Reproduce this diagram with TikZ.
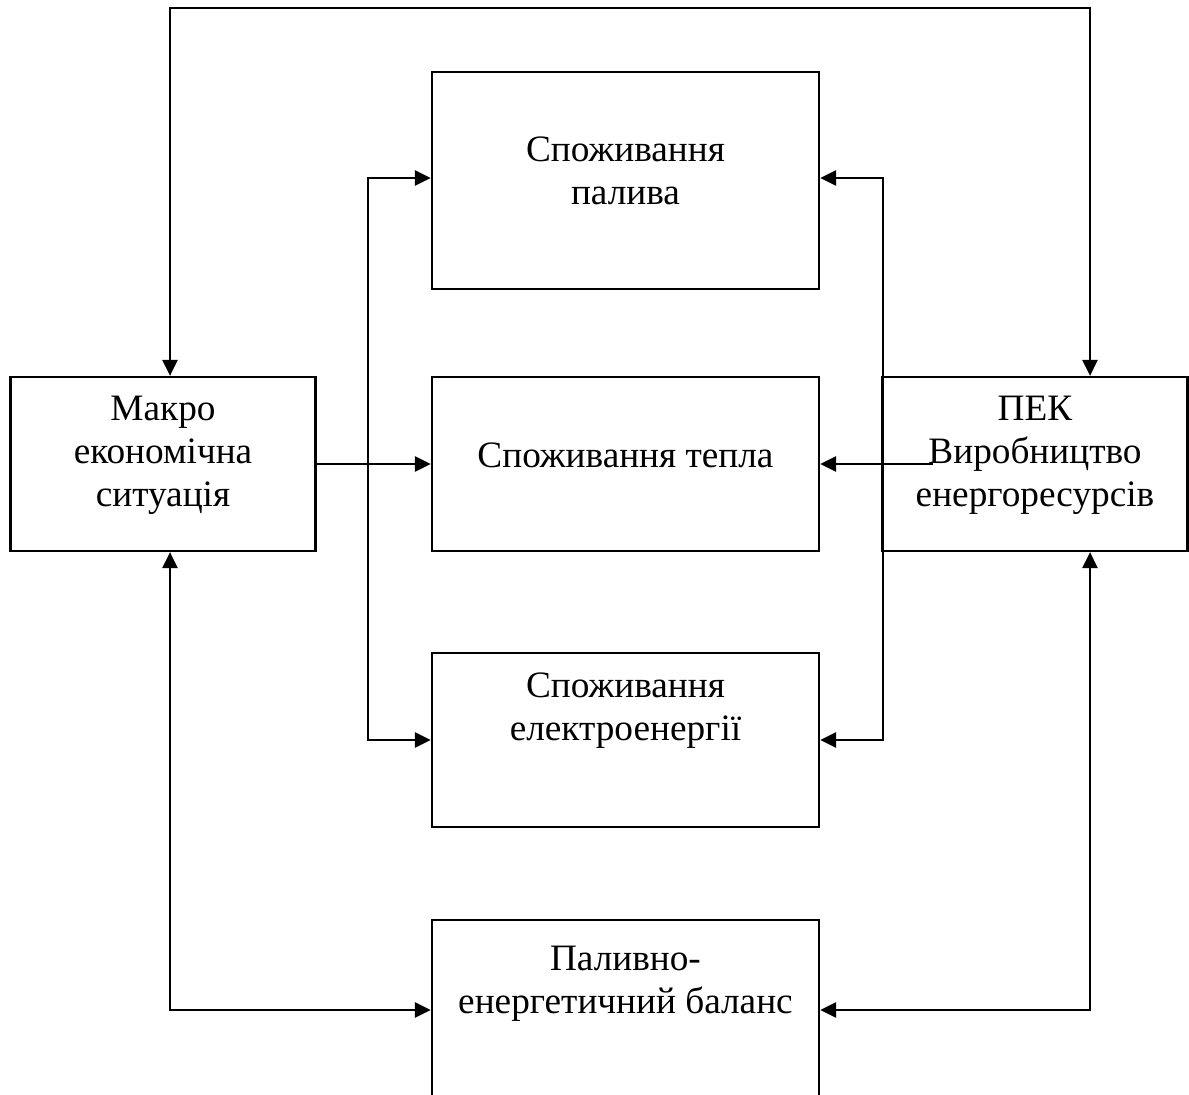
\documentclass[tikz,border=0pt]{standalone}
\usepackage{fontspec}
\setmainfont{Liberation Serif}
\usepackage{tikz}
\usetikzlibrary{positioning,arrows.meta,calc}

\begin{document}
\begin{tikzpicture}[
  x=0.025cm, y=-0.025cm,
  font=\fontsize{26.5}{30.5}\selectfont,
  blok/.style={draw=black, line width=1.6pt, minimum width=9.675cm, minimum height=4.35cm, inner sep=0pt},
  bok/.style={blok, minimum width=7.62cm},
  txt/.style={align=center, inner sep=0pt},
  arr/.style={-{Triangle[length=0.4cm, width=0.38cm]}, line width=1.6pt},
  both/.style={{Triangle[length=0.4cm, width=0.38cm]}-{Triangle[length=0.4cm, width=0.38cm]}, line width=1.6pt}
]
% Coordinates in pixels of the 1189x1095 sheet, y running down.
\useasboundingbox (0,0) rectangle (1189,1095);
\clip (0,0) rectangle (1189,1095);

% --- Boxes ---
\node[blok, minimum height=5.425cm] (palyvo) at (625.5,180.5) {};
\node[blok] (teplo) at (625.5,464) {};
\node[blok] (elektro) at (625.5,740) {};
\node[blok, minimum height=6.5cm] (balans) at (625.5,1050) {};
\node[bok] (makro) at (163,464) {};
\node[bok] (pek) at (1035,464) {};

% --- Texts ---
\node[txt] (palyvotxt) at (625.5,171) {Споживання\\палива};
\node[txt] (teplotxt) at (625.5,455) {Споживання тепла};
\node[txt] (elektrotxt) at (625.5,711) {Споживання\\електроенергії};
\node[txt] (balanstxt) at (625.5,984) {Паливно-\\енергетичний баланс};
\node[txt] (makrotxt) at (163,455) {Макро\\економічна\\ситуація};
\node[txt] (pektxt) at (1035,455) {ПЕК\\Виробництво\\енергоресурсів};

% --- Corner points ---
\coordinate (tl) at (170,8);
\coordinate (tr) at (1090,8);
\coordinate (bl) at (170,1010);
\coordinate (br) at (1090,1010);
\coordinate (lb1) at (368,178);
\coordinate (lb2) at (368,740);
\coordinate (rb1) at (883,178);
\coordinate (rb2) at (883,740);
\coordinate (pv) at (933,464);

% --- Connectors ---
\draw[both] (tl |- makro.north) -- (tl) -- (tr) -- (tr |- pek.north);
\draw[both] (bl |- makro.south) -- (bl) -- (balans.west |- bl);
\draw[both] (br |- pek.south) -- (br) -- (balans.east |- br);
\draw[both] (palyvo.west |- lb1) -- (lb1) -- (lb2) -- (elektro.west |- lb2);
\draw[both] (palyvo.east |- rb1) -- (rb1) -- (rb2) -- (elektro.east |- rb2);
\draw[arr] (makro.east) -- (teplo.west);
\draw[arr] (pv) -- (teplo.east);

\end{tikzpicture}
\end{document}
